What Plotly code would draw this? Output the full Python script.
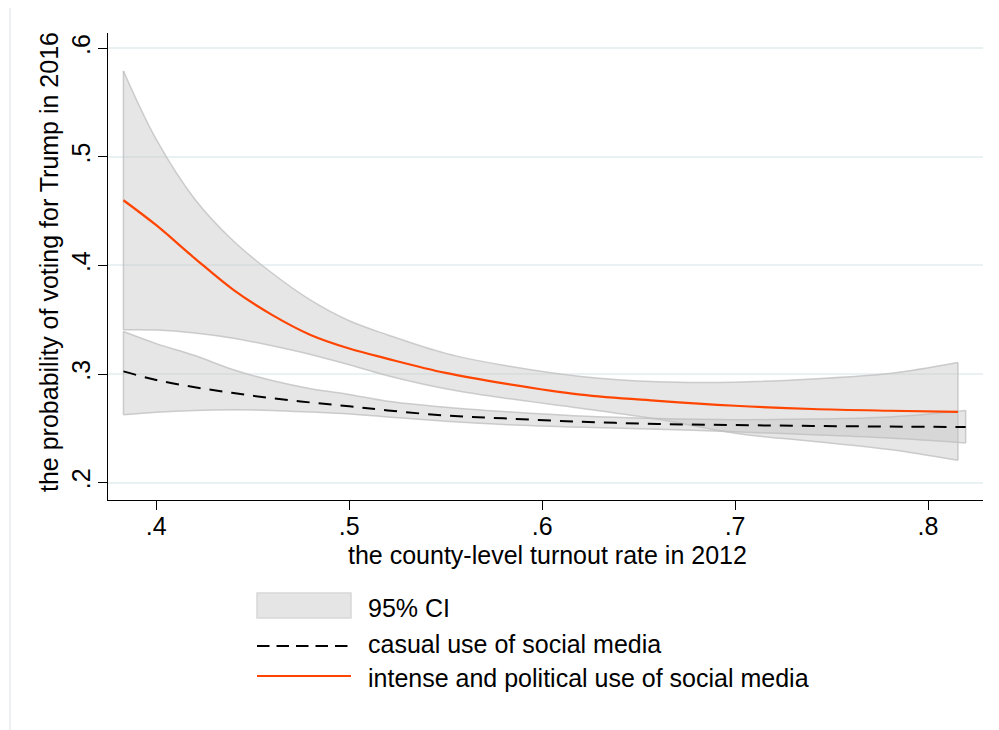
import plotly.graph_objects as go

# ---- data ----
x_intense = [0.383, 0.40, 0.42, 0.44, 0.46, 0.48, 0.50, 0.52, 0.55, 0.58, 0.62, 0.66, 0.70, 0.74, 0.78, 0.8155]
y_intense = [0.460, 0.437, 0.4065, 0.3775, 0.3545, 0.336, 0.3235, 0.314, 0.301, 0.2914, 0.281, 0.2753, 0.2708, 0.2678, 0.2662, 0.2652]
hi_intense = [0.579, 0.516, 0.461, 0.4225, 0.393, 0.368, 0.349, 0.336, 0.319, 0.308, 0.2977, 0.2928, 0.2925, 0.2955, 0.3005, 0.3106]
lo_intense = [0.3407, 0.3405, 0.3378, 0.333, 0.326, 0.318, 0.3085, 0.2985, 0.2865, 0.278, 0.2685, 0.2583, 0.2455, 0.238, 0.2305, 0.2205]

x_casual = [0.383, 0.40, 0.42, 0.44, 0.46, 0.48, 0.50, 0.52, 0.55, 0.58, 0.62, 0.66, 0.70, 0.74, 0.78, 0.8195]
y_casual = [0.3024, 0.2945, 0.2878, 0.2825, 0.2777, 0.2738, 0.2703, 0.2665, 0.2618, 0.2592, 0.2561, 0.2540, 0.2530, 0.2522, 0.2516, 0.2512]
hi_casual = [0.3391, 0.328, 0.317, 0.3039, 0.294, 0.2865, 0.2812, 0.275, 0.2695, 0.2655, 0.2613, 0.2590, 0.2580, 0.2585, 0.2605, 0.2665]
lo_casual = [0.2625, 0.2648, 0.2665, 0.2671, 0.2665, 0.2650, 0.2632, 0.2605, 0.2565, 0.2535, 0.2510, 0.2492, 0.2468, 0.2441, 0.2410, 0.2365]

x_ticks = [0.4, 0.5, 0.6, 0.7, 0.8]
x_tick_labels = [".4", ".5", ".6", ".7", ".8"]
y_ticks = [0.2, 0.3, 0.4, 0.5, 0.6]
y_tick_labels = [".2", ".3", ".4", ".5", ".6"]

x_title = "the county-level turnout rate in 2012"
y_title = "the probability of voting for Trump in 2016"
legend_labels = ["95% CI", "casual use of social media", "intense and political use of social media"]

FONT = "Liberation Sans, Arial, Helvetica, sans-serif"
FS = 25
CI_FILL = "rgba(195,195,195,0.42)"
CI_LINE = "rgba(190,190,190,0.75)"
RED = "#ff4500"

fig = go.Figure()

for xs, hi, lo in [(x_intense, hi_intense, lo_intense), (x_casual, hi_casual, lo_casual)]:
    fig.add_trace(go.Scatter(x=xs, y=lo, mode="lines", line_shape="spline",
                             line=dict(color=CI_LINE, width=1.5),
                             showlegend=False, hoverinfo="skip"))
    fig.add_trace(go.Scatter(x=xs, y=hi, mode="lines", line_shape="spline",
                             fill="tonexty", fillcolor=CI_FILL,
                             line=dict(color=CI_LINE, width=1.5),
                             showlegend=False, hoverinfo="skip"))
    for i in (0, -1):
        fig.add_trace(go.Scatter(x=[xs[i], xs[i]], y=[lo[i], hi[i]], mode="lines",
                                 line=dict(color=CI_LINE, width=1.5),
                                 showlegend=False, hoverinfo="skip"))

fig.add_trace(go.Scatter(x=x_casual, y=y_casual, mode="lines", line_shape="spline",
                         line=dict(color="black", width=2, dash="13px,9px"),
                         showlegend=False))
fig.add_trace(go.Scatter(x=x_intense, y=y_intense, mode="lines", line_shape="spline",
                         line=dict(color=RED, width=2.2),
                         showlegend=False))

# page-pixel -> paper helpers (plot area spans page x 108..983, y 33..500;
# the page body adds an 8px offset, accounted for in the figure size/margins)
def px_x(p):
    return (p - 108) / 875.0

def px_y(p):
    return (500 - p) / 467.0

shapes = [
    dict(type="rect", xref="paper", yref="paper",
         x0=px_x(257), x1=px_x(351), y0=px_y(618), y1=px_y(593),
         fillcolor="#e5e5e5", line=dict(color="#d8d8d8", width=1.5)),
    dict(type="line", xref="paper", yref="paper",
         x0=px_x(257), x1=px_x(351), y0=px_y(646), y1=px_y(646),
         line=dict(color="black", width=2, dash="12.5px,7px")),
    dict(type="line", xref="paper", yref="paper",
         x0=px_x(257), x1=px_x(351), y0=px_y(676), y1=px_y(676),
         line=dict(color=RED, width=2.2)),
    dict(type="line", xref="paper", yref="paper",
         x0=px_x(10), x1=px_x(1000), y0=px_y(7), y1=px_y(7),
         line=dict(color="#e4ecee", width=1.5)),
    dict(type="line", xref="paper", yref="paper",
         x0=px_x(10), x1=px_x(10), y0=px_y(7), y1=px_y(731),
         line=dict(color="#e4ecee", width=1.5)),
]

annotations = []
for lbl, py in zip(legend_labels, [608, 644, 678]):
    annotations.append(dict(text=lbl, xref="paper", yref="paper",
                            x=px_x(366), y=px_y(py), xanchor="left", yanchor="middle",
                            showarrow=False, font=dict(size=FS, color="black", family=FONT)))
annotations.append(dict(text=x_title, xref="paper", yref="paper",
                        x=px_x(547), y=px_y(555), xanchor="center", yanchor="middle",
                        showarrow=False, font=dict(size=FS, color="black", family=FONT)))
annotations.append(dict(text=y_title, xref="paper", yref="paper",
                        x=px_x(49), y=px_y(262), xanchor="center", yanchor="middle",
                        textangle=-90,
                        showarrow=False, font=dict(size=FS, color="black", family=FONT)))

fig.update_layout(
    width=991, height=722,
    margin=dict(l=100, r=16, t=25, b=230, autoexpand=False),
    paper_bgcolor="white", plot_bgcolor="white",
    font=dict(family=FONT, size=FS, color="black"),
    shapes=shapes, annotations=annotations,
    xaxis=dict(range=[0.375, 0.8285], tickvals=x_ticks, ticktext=x_tick_labels,
               automargin=False,
               showgrid=False, zeroline=False, showline=True, linecolor="black", linewidth=1.2,
               ticks="outside", ticklen=9, tickwidth=1.2, tickcolor="black",
               tickfont=dict(size=FS), ticklabelstandoff=-5),
    yaxis=dict(range=[0.184, 0.614], tickvals=y_ticks, ticktext=y_tick_labels,
               automargin=False,
               showgrid=True, gridcolor="#eaf1f3", gridwidth=1.5, zeroline=False,
               showline=True, linecolor="black", linewidth=1.2,
               ticks="outside", ticklen=9, tickwidth=1.2, tickcolor="black",
               tickangle=-90, tickfont=dict(size=FS), ticklabelstandoff=-2),
)

fig.write_html("out.html")
